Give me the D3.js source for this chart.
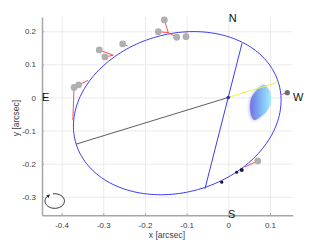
<!DOCTYPE html>
<html>
<head>
<meta charset="utf-8">
<script src="https://cdn.jsdelivr.net/npm/d3@7"></script>
<style>
  body { margin: 0; background: #fff; }
  text { font-family: "Liberation Sans", Arial, sans-serif; }
</style>
</head>
<body>
<div id="chart"></div>
<script>
// tick values
const xTicks = [-0.4, -0.3, -0.2, -0.1, 0, 0.1];
const yTicks = [-0.3, -0.2, -0.1, 0, 0.1, 0.2];

// projected orbit: centre and two conjugate semi-diameters
const orbitCenter = [-0.1225, -0.0475];
const orbitU = [0.2425, 0.0935];
const orbitV = [-0.057, 0.228];

// line of nodes end points
const nodeX = [0.033, -0.056];
const nodeY = [0.164, -0.276];

// measured positions and matching model positions
const obsX = [-0.370, -0.359, -0.3096, -0.296, -0.2534, -0.168, -0.1536, -0.1238, -0.1015, 0.0706];
const obsY = [0.030, 0.038, 0.1435, 0.1224, 0.1616, 0.1988, 0.2341, 0.1819, 0.1837, -0.1918];
const modX = [-0.373, -0.3365, -0.276, -0.276, -0.2414, -0.144, -0.144, -0.144, -0.1015, 0.040];
const modY = [-0.068, 0.0514, 0.1275, 0.1275, 0.1556, 0.1958, 0.1958, 0.1958, 0.197, -0.210];

// the odd one out near W
const wObs = [0.1416, 0.0145];
const wMod = [0.1277, 0.009];

// predicted positions (dark dots)
const predX = [0.0322, 0.020, -0.0158];
const predY = [-0.219, -0.226, -0.256];
const predR = [2, 1.6, 1.6];

// outline of the cloud of positions
const cloudX = [0.0881, 0.0977, 0.1025, 0.1001, 0.0905, 0.0737, 0.0617, 0.0545, 0.0521, 0.0545, 0.0641, 0.0761];
const cloudY = [0.0378, 0.0227, 0.0015, -0.0227, -0.0438, -0.0619, -0.068, -0.0529, -0.0287, -0.0045, 0.0166, 0.0317];

// compass labels
const compass = [
  { t: "N", x: 0.0105, y: 0.24, a: "middle" },
  { t: "E", x: -0.447, y: 0.0, a: "start" },
  { t: "W", x: 0.155, y: 0.0, a: "start" },
  { t: "S", x: 0.008, y: -0.353, a: "middle" }
];

// sense of motion marker
const motionCenter = [-0.4165, -0.3129];
const motionR = [0.0233, 0.022];

const width = 323, height = 242;

const x = d3.scaleLinear().domain([-0.447, 0.1545]).range([42, 292.7]);
const y = d3.scaleLinear().domain([-0.356, 0.243]).range([215.3, 17]);

const svg = d3.select("#chart")
  .append("svg")
  .attr("width", width)
  .attr("height", height);

const defs = svg.append("defs");
const grad = defs.append("linearGradient")
  .attr("id", "cloudGrad")
  .attr("x1", "0%").attr("x2", "100%")
  .attr("y1", "0%").attr("y2", "0%");
grad.append("stop").attr("offset", "0%").attr("stop-color", "#7470e2");
grad.append("stop").attr("offset", "50%").attr("stop-color", "#7fb4f4");
grad.append("stop").attr("offset", "100%").attr("stop-color", "#9eeeff");
defs.append("filter").attr("id", "fuzz")
  .attr("x", "-50%").attr("y", "-50%").attr("width", "200%").attr("height", "200%")
  .append("feGaussianBlur").attr("stdDeviation", 1.8);

// grid
svg.append("g")
  .attr("transform", "translate(0,215.3)")
  .call(d3.axisBottom(x).tickValues(xTicks).tickSize(-(215.3 - 17)).tickFormat(""))
  .call(g => g.select(".domain").remove())
  .call(g => g.selectAll("line").attr("stroke", "#e6e6e6").attr("stroke-width", 0.8));

svg.append("g")
  .attr("transform", "translate(42,0)")
  .call(d3.axisLeft(y).tickValues(yTicks).tickSize(-(292.7 - 42)).tickFormat(""))
  .call(g => g.select(".domain").remove())
  .call(g => g.selectAll("line").attr("stroke", "#e6e6e6").attr("stroke-width", 0.8));

// axes
svg.append("g")
  .attr("transform", "translate(0,215.3)")
  .call(d3.axisBottom(x).tickValues(xTicks).tickSizeInner(-2).tickSizeOuter(0).tickPadding(7).tickFormat(d => String(d)))
  .call(g => g.select(".domain").attr("stroke", "#a6a6a6").attr("stroke-width", 1.5))
  .call(g => g.selectAll("line").attr("stroke", "#a6a6a6"))
  .call(g => g.selectAll("text").attr("fill", "#404040").attr("font-size", "8px")
    .style("font-family", "Liberation Sans, Arial, sans-serif"));

svg.append("g")
  .attr("transform", "translate(42,0)")
  .call(d3.axisLeft(y).tickValues(yTicks).tickSizeInner(-2).tickSizeOuter(0).tickPadding(6).tickFormat(d => String(d)))
  .call(g => g.select(".domain").attr("stroke", "#a6a6a6").attr("stroke-width", 1.5))
  .call(g => g.selectAll("line").attr("stroke", "#a6a6a6"))
  .call(g => g.selectAll("text").attr("fill", "#404040").attr("font-size", "8px")
    .style("font-family", "Liberation Sans, Arial, sans-serif"));

// axis labels
svg.append("text")
  .attr("x", 167)
  .attr("y", 238)
  .attr("text-anchor", "middle")
  .attr("font-size", "8.5px")
  .attr("fill", "#404040")
  .text("x [arcsec]");

svg.append("text")
  .attr("transform", "translate(19,118) rotate(-90)")
  .attr("text-anchor", "middle")
  .attr("font-size", "8.5px")
  .attr("fill", "#404040")
  .text("y [arcsec]");

const plot = svg.append("g");

// cloud of positions
const cloudPts = cloudX.map((d, i) => [x(d), y(cloudY[i])]);
const cloudLine = d3.line().curve(d3.curveCardinalClosed.tension(0.2));
plot.append("path")
  .attr("d", cloudLine(cloudPts))
  .attr("fill", "#7a70dc")
  .attr("opacity", 0.5)
  .attr("transform", "translate(-1,0.5)")
  .attr("filter", "url(#fuzz)");
plot.append("path")
  .attr("d", cloudLine(cloudPts))
  .attr("fill", "url(#cloudGrad)");

// orbit
const ts = d3.range(0, 361, 2).map(a => a * Math.PI / 180);
const orbitLine = d3.line()
  .x(t => x(orbitCenter[0] + orbitU[0] * Math.cos(t) + orbitV[0] * Math.sin(t)))
  .y(t => y(orbitCenter[1] + orbitU[1] * Math.cos(t) + orbitV[1] * Math.sin(t)));
plot.append("path")
  .attr("d", orbitLine(ts))
  .attr("fill", "none")
  .attr("stroke", "#3c3cf5")
  .attr("stroke-width", 1);

// line of nodes
plot.append("line")
  .attr("x1", x(nodeX[0])).attr("y1", y(nodeY[0]))
  .attr("x2", x(nodeX[1])).attr("y2", y(nodeY[1]))
  .attr("stroke", "#3c3cf5")
  .attr("stroke-width", 1);

// periastron (black) and apastron (yellow)
plot.append("line")
  .attr("x1", x(0)).attr("y1", y(0))
  .attr("x2", x(orbitCenter[0] - orbitU[0])).attr("y2", y(orbitCenter[1] - orbitU[1]))
  .attr("stroke", "#333")
  .attr("stroke-width", 0.8);
plot.append("line")
  .attr("x1", x(0)).attr("y1", y(0))
  .attr("x2", x(orbitCenter[0] + orbitU[0])).attr("y2", y(orbitCenter[1] + orbitU[1]))
  .attr("stroke", "#f0f040")
  .attr("stroke-width", 1);

// residuals
plot.selectAll(".res")
  .data(obsX)
  .enter()
  .append("line")
  .attr("x1", (d, i) => x(d)).attr("y1", (d, i) => y(obsY[i]))
  .attr("x2", (d, i) => x(modX[i])).attr("y2", (d, i) => y(modY[i]))
  .attr("stroke", "#ff4d4d")
  .attr("stroke-width", 1);
plot.append("line")
  .attr("x1", x(wObs[0])).attr("y1", y(wObs[1]))
  .attr("x2", x(wMod[0])).attr("y2", y(wMod[1]))
  .attr("stroke", "#ff4d4d")
  .attr("stroke-width", 1);

// measurements
plot.selectAll(".obs")
  .data(obsX)
  .enter()
  .append("circle")
  .attr("cx", d => x(d))
  .attr("cy", (d, i) => y(obsY[i]))
  .attr("r", 3.4)
  .attr("fill", "#b0b0b0");
plot.append("circle")
  .attr("cx", x(wObs[0])).attr("cy", y(wObs[1]))
  .attr("r", 2.6)
  .attr("fill", "#6e6e6e");

// predictions
plot.selectAll(".pred")
  .data(predX)
  .enter()
  .append("circle")
  .attr("cx", d => x(d))
  .attr("cy", (d, i) => y(predY[i]))
  .attr("r", (d, i) => predR[i])
  .attr("fill", "#1a1a40");

// primary
plot.append("circle")
  .attr("cx", x(0)).attr("cy", y(0))
  .attr("r", 1.8)
  .attr("fill", "#2a2acc");

// compass labels
svg.selectAll(".compass")
  .data(compass)
  .enter()
  .append("text")
  .attr("x", d => x(d.x))
  .attr("y", d => y(d.y))
  .attr("dy", "0.36em")
  .attr("text-anchor", d => d.a)
  .attr("font-size", "11px")
  .attr("fill", "#111")
  .text(d => d.t);

// sense of motion
const mcx = x(motionCenter[0]), mcy = y(motionCenter[1]);
const mrx = x(motionCenter[0] + motionR[0]) - mcx;
const mry = mcy - y(motionCenter[1] + motionR[1]);
const arcAngles = d3.range(-100, 226, 5).map(a => a * Math.PI / 180);
svg.append("path")
  .attr("d", d3.line()(arcAngles.map(a => [mcx + mrx * Math.cos(a), mcy + mry * Math.sin(a)])))
  .attr("fill", "none")
  .attr("stroke", "#222")
  .attr("stroke-width", 1);
const ea = 225 * Math.PI / 180;
const tipX = mcx + mrx * Math.cos(ea), tipY = mcy + mry * Math.sin(ea);
svg.append("path")
  .attr("d", `M${tipX + 2.2},${tipY - 1.6} L${tipX - 1.6},${tipY - 0.4} L${tipX + 0.6},${tipY + 2}Z`)
  .attr("fill", "#222");
</script>
</body>
</html>
